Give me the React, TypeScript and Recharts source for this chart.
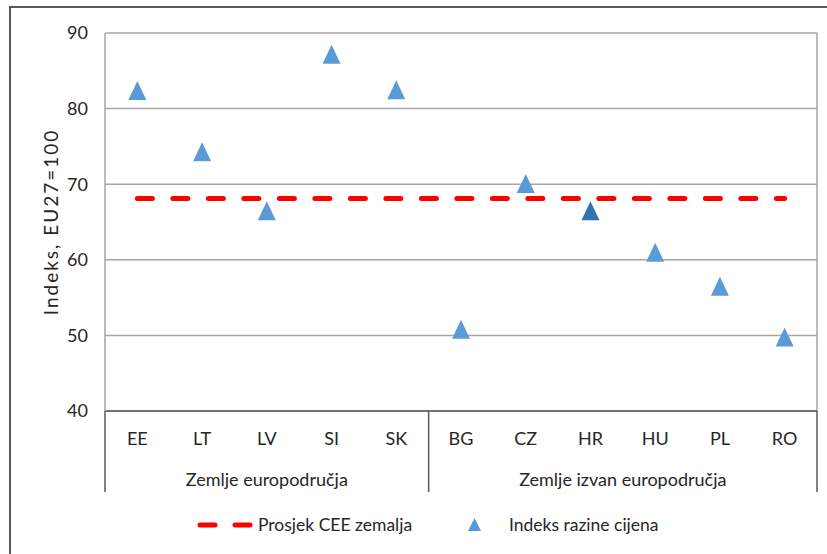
import {
  ComposedChart,
  Scatter,
  Line,
  XAxis,
  YAxis,
  CartesianGrid,
  ReferenceLine,
} from 'recharts'

const categories = ['EE', 'LT', 'LV', 'SI', 'SK', 'BG', 'CZ', 'HR', 'HU', 'PL', 'RO']
const priceIndex = [82.4, 74.3, 66.5, 87.2, 82.5, 50.8, 70.1, 66.5, 61.0, 56.5, 49.8]
const ceeAverage = 68.1
const groupNames = ['Zemlje europodručja', 'Zemlje izvan europodručja']
const groupSizes = [5, 6]
const yTicks = [40, 50, 60, 70, 80, 90]
const highlighted = 'HR'

const data = categories.map((name, i) => ({ x: i, name, value: priceIndex[i], avg: ceeAverage }))

// group boundaries and centres on the index scale
const bounds: number[] = [-0.5]
const centres: number[] = []
groupSizes.forEach((n) => {
  const start = bounds[bounds.length - 1] + 0.5
  centres.push(start + (n - 1) / 2)
  bounds.push(start + n - 0.5)
})
const catTicks = [...categories.map((_, i) => i), ...bounds].sort((a, b) => a - b)

const FONT = 'Lato, "Open Sans", sans-serif'
const FS = 18
const TEXT = '#262626'
const GRID = '#A6A6A6'
const AXIS = '#595959'

function CatTick({ x, y, payload }: any) {
  const v = payload.value
  if (Number.isInteger(v)) {
    return (
      <text x={x} y={y + 34} textAnchor="middle" fontSize={FS} fontFamily={FONT} fill={TEXT}>
        {categories[v]}
      </text>
    )
  }
  return <line x1={x} x2={x} y1={y} y2={y + 81} stroke={AXIS} strokeWidth={1.5} />
}

function GroupTick({ x, y, payload }: any) {
  const idx = centres.indexOf(payload.value)
  return (
    <text x={x} y={y + 32} textAnchor="middle" fontSize={FS} fontFamily={FONT} fill={TEXT}>
      {groupNames[idx]}
    </text>
  )
}

function YTitle({ viewBox }: any) {
  const cy = viewBox.y + viewBox.height / 2
  const x = 50
  return (
    <text
      x={x}
      y={cy}
      transform={`rotate(-90 ${x} ${cy})`}
      textAnchor="middle"
      dominantBaseline="central"
      fontSize={19}
      letterSpacing={2}
      fontFamily={FONT}
      fill={TEXT}
    >
      Indeks, EU27=100
    </text>
  )
}

function Triangle({ cx, cy, payload }: any) {
  const fill = payload.name === highlighted ? '#2E75B6' : '#5B9BD5'
  return <polygon points={`${cx},${cy - 9.5} ${cx + 9},${cy + 9.5} ${cx - 9},${cy + 9.5}`} fill={fill} />
}

export default function App() {
  return (
    <div style={{ position: 'absolute', left: 0, top: 0, width: 827, height: 554, background: '#fff', overflow: 'hidden' }}>
      <div
        style={{
          position: 'absolute',
          left: 9,
          top: 6,
          width: 840,
          height: 570,
          borderLeft: `2px solid ${AXIS}`,
          borderTop: `2px solid ${AXIS}`,
        }}
      />
      <div style={{ position: 'absolute', left: 0, top: 0 }}>
        <ComposedChart width={827} height={554} data={data} margin={{ top: 33, right: 10, bottom: 60, left: 45 }}>
          <CartesianGrid vertical={false} stroke={GRID} strokeWidth={1.5} />
          <XAxis
            xAxisId="cat"
            dataKey="x"
            type="number"
            domain={[bounds[0], bounds[bounds.length - 1]]}
            ticks={catTicks}
            interval={0}
            tick={<CatTick />}
            tickLine={false}
            tickSize={0}
            tickMargin={0}
            axisLine={{ stroke: AXIS, strokeWidth: 1.5 }}
            height={43}
          />
          <XAxis
            xAxisId="grp"
            dataKey="x"
            type="number"
            domain={[bounds[0], bounds[bounds.length - 1]]}
            ticks={centres}
            interval={0}
            tick={<GroupTick />}
            tickLine={false}
            tickSize={0}
            tickMargin={0}
            axisLine={false}
            height={40}
          />
          <YAxis
            domain={[40, 90]}
            ticks={yTicks}
            interval={0}
            width={60}
            tickLine={false}
            tickSize={0}
            tickMargin={17}
            axisLine={{ stroke: GRID, strokeWidth: 1.5 }}
            tick={{ fontSize: FS, fontFamily: FONT, fill: TEXT }}
            label={<YTitle />}
          />
          <ReferenceLine xAxisId="cat" x={bounds[bounds.length - 1]} stroke={GRID} strokeWidth={1.5} />
          <Line
            xAxisId="cat"
            dataKey="avg"
            stroke="#FF0000"
            strokeWidth={5}
            strokeDasharray="15 20.5"
            strokeLinecap="round"
            dot={false}
            activeDot={false}
            isAnimationActive={false}
          />
          <Scatter xAxisId="cat" dataKey="value" shape={<Triangle />} isAnimationActive={false} />
        </ComposedChart>
      </div>
      <div style={{ position: 'absolute', left: 0, top: 513, width: 827, height: 28, fontFamily: FONT, fontSize: 17.5, color: TEXT }}>
        <svg style={{ position: 'absolute', left: 195, top: 7 }} width={60} height={10}>
          <line x1={5} x2={20} y1={5} y2={5} stroke="#FF0000" strokeWidth={5} strokeLinecap="round" />
          <line x1={40} x2={55} y1={5} y2={5} stroke="#FF0000" strokeWidth={5} strokeLinecap="round" />
        </svg>
        <span style={{ position: 'absolute', left: 258, top: 1, whiteSpace: 'nowrap' }}>Prosjek CEE zemalja</span>
        <svg style={{ position: 'absolute', left: 467, top: 5 }} width={15} height={14}>
          <polygon points="7.5,0 14,13 1,13" fill="#5B9BD5" />
        </svg>
        <span style={{ position: 'absolute', left: 509, top: 1, whiteSpace: 'nowrap' }}>Indeks razine cijena</span>
      </div>
    </div>
  )
}
